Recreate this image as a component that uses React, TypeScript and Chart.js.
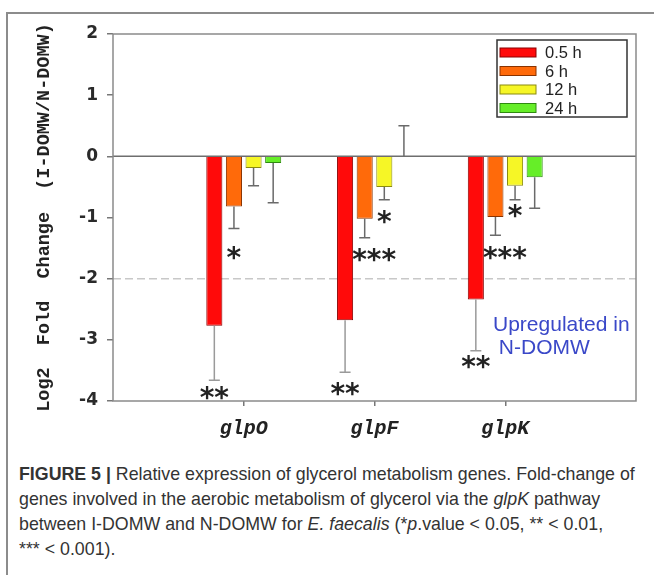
import React, { useEffect, useRef } from "react";
import { Chart, registerables } from "chart.js";

Chart.register(...registerables);

// ---------------- data ----------------
const genes = ["glpO", "glpF", "glpK"];
const seriesLabels = ["0.5 h", "6 h", "12 h", "24 h"];
const values05 = [-2.77, -2.68, -2.34];
const values6 = [-0.82, -1.02, -0.99];
const values12 = [-0.19, -0.5, -0.48];
const values24 = [-0.11, 0.0, -0.34];
// error bar end values (log2 units)
const errEnd05 = [-3.66, -3.53, -3.18];
const errEnd6 = [-1.18, -1.33, -1.29];
const errEnd12 = [-0.48, -0.71, -0.71];
const errEnd24 = [-0.76, 0.5, -0.85];
// significance marks and their vertical position (log2 units)
const sig05 = ["**", "**", "**"];
const sig6 = ["*", "***", "***"];
const sig12 = ["", "*", "*"];
const sig24 = ["", "", ""];
const sigPos05 = [-3.87, -3.81, -3.36];
const sigPos6 = [-1.575, -1.61, -1.575];
const sigPos12 = [0, -0.99, -0.89];
const sigPos24 = [0, 0, 0];
const yTicks = [2, 1, 0, -1, -2, -3, -4];
const yMin = -4;
const yMax = 2;
const dashedLevel = -2;
const noteLines = ["Upregulated in", " N-DOMW"];
const notePos = [-2.76, -3.13];

const fillColors = ["#ff0a0a", "#ff6a0a", "#f6f626", "#66ee28"];
const borderColors = ["#8a0000", "#8a3300", "#8a8a10", "#2f8a10"];

const seriesValues = [values05, values6, values12, values24];
const seriesErr = [errEnd05, errEnd6, errEnd12, errEnd24];
const seriesSig = [sig05, sig6, sig12, sig24];
const seriesSigPos = [sigPos05, sigPos6, sigPos12, sigPos24];

const xLabels = ["", ...genes, ""];

const decorPlugin = {
  id: "decor",
  beforeDatasetsDraw(chart: any) {
    const { ctx, chartArea: a, scales } = chart;
    const y = scales.y;
    ctx.save();
    const yd = y.getPixelForValue(dashedLevel);
    ctx.strokeStyle = "#c8c8c8";
    ctx.lineWidth = 1.5;
    ctx.setLineDash([8, 4]);
    ctx.beginPath();
    ctx.moveTo(a.left, yd);
    ctx.lineTo(a.right, yd);
    ctx.stroke();
    ctx.setLineDash([]);
    const y0 = y.getPixelForValue(0);
    ctx.strokeStyle = "#6e6e6e";
    ctx.lineWidth = 1.5;
    ctx.beginPath();
    ctx.moveTo(a.left, y0);
    ctx.lineTo(a.right, y0);
    ctx.stroke();
    ctx.restore();
  },
  afterDatasetsDraw(chart: any) {
    const { ctx, chartArea: a, scales } = chart;
    const y = scales.y;
    ctx.save();
    chart.data.datasets.forEach((ds: any, di: number) => {
      const meta = chart.getDatasetMeta(di);
      meta.data.forEach((el: any, idx: number) => {
        const gi = idx - 1;
        if (gi < 0 || gi >= genes.length) return;
        const v = seriesValues[di][gi];
        const e = seriesErr[di][gi];
        const x = el.x;
        const yv = y.getPixelForValue(v);
        const ye = y.getPixelForValue(e);
        ctx.strokeStyle = di === 0 ? "#9a9a9a" : "#6a6a6a";
        ctx.lineWidth = 1.5;
        ctx.beginPath();
        ctx.moveTo(x, yv);
        ctx.lineTo(x, ye);
        ctx.moveTo(x - 5.5, ye);
        ctx.lineTo(x + 5.5, ye);
        ctx.stroke();
        const s = seriesSig[di][gi];
        if (s) {
          ctx.font = 'bold 28px "DejaVu Sans", sans-serif';
          ctx.fillStyle = "#222";
          ctx.textAlign = "center";
          ctx.textBaseline = "alphabetic";
          const m = ctx.measureText(s);
          const ys = y.getPixelForValue(seriesSigPos[di][gi]);
          const dx = s.length === 3 ? 9.5 : 0;
          ctx.fillText(s, x + dx, ys + (m.actualBoundingBoxAscent - m.actualBoundingBoxDescent) / 2);
        }
      });
    });
    ctx.strokeStyle = "#8a8a8a";
    ctx.lineWidth = 1.5;
    ctx.strokeRect(a.left, a.top, a.right - a.left, a.bottom - a.top);
    const lx = a.right - 139;
    const ly = a.top + 6;
    const lw = 130;
    const lh = 77;
    ctx.fillStyle = "#fff";
    ctx.fillRect(lx, ly, lw, lh);
    ctx.strokeStyle = "#333";
    ctx.lineWidth = 1.5;
    ctx.strokeRect(lx, ly, lw, lh);
    chart.data.datasets.forEach((ds: any, di: number) => {
      const ry = ly + 12.5 + di * 18.5;
      ctx.fillStyle = ds.backgroundColor;
      ctx.fillRect(lx + 3, ry - 4.5, 36, 9);
      ctx.strokeStyle = ds.borderColor;
      ctx.lineWidth = 1;
      ctx.strokeRect(lx + 3, ry - 4.5, 36, 9);
      ctx.fillStyle = "#222";
      ctx.font = '16.5px "Liberation Sans", Arial, sans-serif';
      ctx.textAlign = "left";
      ctx.textBaseline = "middle";
      ctx.fillText(ds.label, lx + 48, ry + 1);
    });
    ctx.fillStyle = "#3a48c8";
    ctx.font = '21px "Liberation Sans", Arial, sans-serif';
    ctx.textAlign = "left";
    ctx.textBaseline = "middle";
    noteLines.forEach((t, i) => {
      ctx.fillText(t, a.right - 143, y.getPixelForValue(notePos[i]));
    });
    ctx.restore();
  },
};

export default function App() {
  const ref = useRef<HTMLCanvasElement | null>(null);
  useEffect(() => {
    if (!ref.current) return;
    const chart = new Chart(ref.current, {
      type: "bar",
      data: {
        labels: xLabels,
        datasets: seriesLabels.map((lab, i) => ({
          label: lab,
          data: [null, ...seriesValues[i], null],
          backgroundColor: fillColors[i],
          borderColor: borderColors[i],
          borderWidth: 1,
          borderSkipped: "start",
        })),
      },
      options: {
        responsive: false,
        animation: false,
        devicePixelRatio: 1,
        layout: { padding: { left: 0, top: 34, right: 18, bottom: 9 } },
        datasets: { bar: { categoryPercentage: 0.6, barPercentage: 0.82 } },
        plugins: { legend: { display: false }, tooltip: { enabled: false } },
        scales: {
          x: {
            type: "category",
            offset: false,
            grid: {
              offset: false,
              drawOnChartArea: false,
              drawTicks: true,
              tickLength: 5,
              lineWidth: 1.5,
              color: (c: any) => (c.index > 0 && c.index < xLabels.length - 1 ? "#777" : "rgba(0,0,0,0)"),
            },
            border: { display: false },
            ticks: {
              autoSkip: false,
              maxRotation: 0,
              padding: 11,
              color: "#222",
              font: { family: '"Liberation Mono", monospace', size: 20, weight: "bold", style: "italic" },
            },
            afterFit: (s: any) => {
              s.height = 50;
            },
          },
          y: {
            min: yMin,
            max: yMax,
            afterBuildTicks: (s: any) => {
              s.ticks = yTicks.map((v) => ({ value: v }));
            },
            grid: { drawOnChartArea: false, drawTicks: true, tickLength: 6, lineWidth: 1.5, color: "#777" },
            border: { display: false },
            ticks: {
              padding: 9,
              color: "#2a2a2a",
              font: { family: '"DejaVu Sans", sans-serif', size: 17, weight: "bold" },
            },
            title: {
              display: true,
              text: "Log2  Fold  Change  (I-DOMW/N-DOMW)",
              color: "#222",
              font: { family: '"Liberation Mono", monospace', size: 18.5, weight: "bold" },
              padding: { top: 33, bottom: 0 },
            },
            afterFit: (s: any) => {
              s.width = 113;
            },
          },
        },
      },
      plugins: [decorPlugin],
    } as any);
    return () => chart.destroy();
  }, []);

  return (
    <div style={{ position: "absolute", left: 0, top: 0, width: 654, height: 575, overflow: "hidden", background: "#fff" }}>
      <div
        style={{
          position: "absolute",
          left: 6,
          top: 12,
          width: 800,
          height: 700,
          borderLeft: "2px solid #8c8c8c",
          borderTop: "2px solid #8c8c8c",
        }}
      />
      <canvas ref={ref} width={654} height={460} style={{ position: "absolute", left: 0, top: 0, width: 654, height: 460 }} />
      <div
        style={{
          position: "absolute",
          left: 19,
          top: 462,
          fontFamily: '"Liberation Sans", Arial, sans-serif',
          fontSize: 17.8,
          lineHeight: "25px",
          color: "#333",
          whiteSpace: "nowrap",
        }}
      >
        <b>FIGURE 5 |</b> Relative expression of glycerol metabolism genes. Fold-change of
        <br />
        genes involved in the aerobic metabolism of glycerol via the <i>glpK</i> pathway
        <br />
        between I-DOMW and N-DOMW for <i>E. faecalis</i> (*<i>p</i>.value &lt; 0.05, ** &lt; 0.01,
        <br />
        *** &lt; 0.001).
      </div>
    </div>
  );
}
